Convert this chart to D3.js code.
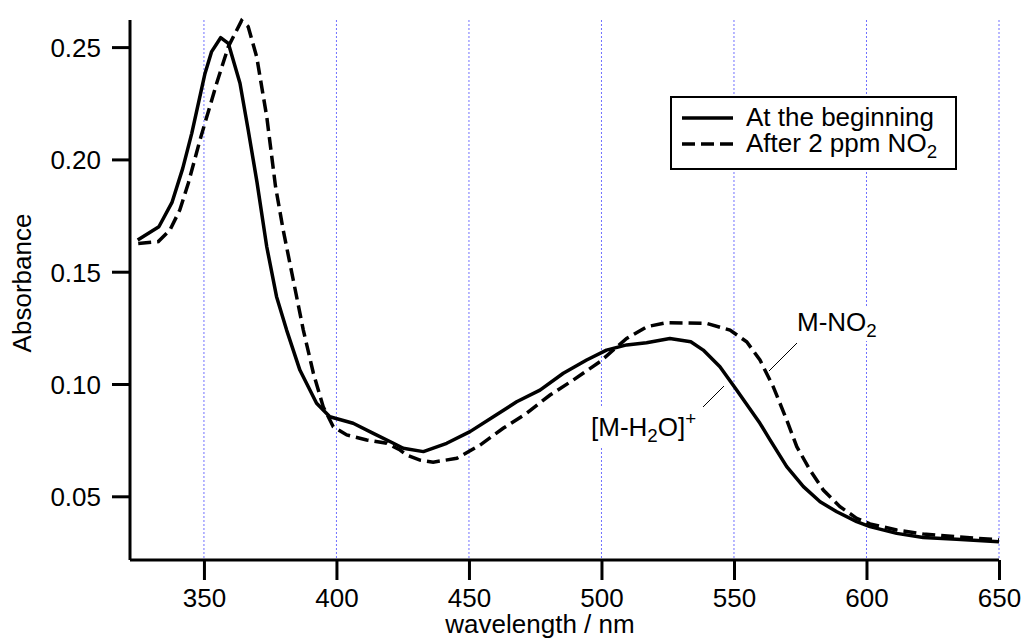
<!DOCTYPE html>
<html>
<head>
<meta charset="utf-8">
<script src="https://cdn.jsdelivr.net/npm/d3@7"></script>
<style>
  html, body { margin: 0; padding: 0; background: #fff; }
  svg { display: block; }
  text { font-family: "Liberation Sans", Arial, Helvetica, sans-serif; fill: #000; }
</style>
</head>
<body>
<svg id="chart" width="1026" height="644"></svg>
<script>
// ---- data ----
const beginWl  = [325, 333, 338, 342, 345.4, 350.4, 352.9, 356.3, 359.2, 363.6, 366.7, 370, 373.7, 377.4, 381.2, 386.2, 392.5, 397.5, 406.3, 413.9, 421.5, 425.2, 432.8, 441.6, 450.4, 459.2, 468, 476.8, 485.6, 494.4, 501.9, 509.5, 517, 525.8, 533.7, 538.4, 544.7, 551, 559.8, 563.6, 569.9, 576.2, 582.5, 588.8, 596.3, 601.3, 611.4, 621.4, 634, 650];
const beginAbs = [0.1641, 0.1700, 0.1810, 0.1960, 0.2116, 0.2383, 0.2480, 0.2542, 0.2517, 0.2339, 0.2131, 0.1900, 0.1611, 0.1389, 0.1240, 0.1062, 0.0914, 0.0854, 0.0825, 0.0780, 0.0736, 0.0714, 0.0699, 0.0736, 0.0788, 0.0854, 0.0921, 0.0973, 0.1048, 0.1107, 0.1151, 0.1174, 0.1184, 0.1203, 0.1188, 0.1151, 0.1077, 0.0973, 0.0825, 0.0751, 0.0632, 0.0543, 0.0476, 0.0431, 0.0387, 0.0365, 0.0335, 0.0317, 0.0309, 0.0298];

const afterWl  = [325.2, 332.8, 337.2, 340.9, 344.1, 348.5, 354.8, 359.2, 364.2, 366.7, 369.9, 373.7, 377, 379.9, 383.7, 387.5, 391.3, 395, 398.8, 403.9, 411.4, 419, 424, 426.5, 431.5, 436.5, 445.4, 454.2, 462.9, 471.8, 480.6, 489.4, 499.4, 509.5, 517.1, 524.6, 539.7, 548.5, 554.8, 559.8, 564.8, 569.9, 573.7, 578.7, 583.7, 590, 596.3, 601.3, 611.4, 621.4, 634, 650];
const afterAbs = [0.1626, 0.1634, 0.1686, 0.1775, 0.1894, 0.2086, 0.2339, 0.2502, 0.2618, 0.2591, 0.2457, 0.2190, 0.1880, 0.1686, 0.1463, 0.1240, 0.1048, 0.0899, 0.0810, 0.0773, 0.0751, 0.0736, 0.0706, 0.0684, 0.0661, 0.0652, 0.0669, 0.0728, 0.0803, 0.0870, 0.0951, 0.1018, 0.1099, 0.1203, 0.1255, 0.1273, 0.1270, 0.1240, 0.1188, 0.1107, 0.0988, 0.0840, 0.0721, 0.0617, 0.0528, 0.0454, 0.0402, 0.0377, 0.0350, 0.0332, 0.0320, 0.0306];

const xTicks = [350, 400, 450, 500, 550, 600, 650];
const yTicks = [0.05, 0.10, 0.15, 0.20, 0.25];
const seriesNames = ["At the beginning", "After 2 ppm NO"];
const xDomain = [322.1, 650];
const yDomain = [0.02164, 0.26207];

// ---- layout ----
const svg = d3.select("#chart");
const plot = { left: 130, right: 999, top: 20, bottom: 560 };
const FS = 26;
const LW = 3.5;

const x = d3.scaleLinear().domain(xDomain).range([plot.left, plot.right]);
const y = d3.scaleLinear().domain(yDomain).range([plot.bottom, plot.top]);

// grid lines (dotted blue)
svg.append("g").selectAll("line").data(xTicks).join("line")
  .attr("x1", d => x(d)).attr("x2", d => x(d))
  .attr("y1", plot.top).attr("y2", plot.bottom)
  .attr("stroke", "#7070ff").attr("stroke-width", 1)
  .attr("stroke-dasharray", "2,2");

// series
const line = d3.line().x(d => x(d[0])).y(d => y(d[1])).curve(d3.curveLinear);
const beginData = beginWl.map((w, i) => [w, beginAbs[i]]);
const afterData = afterWl.map((w, i) => [w, afterAbs[i]]);

svg.append("path").datum(beginData)
  .attr("d", line).attr("fill", "none").attr("stroke", "#000")
  .attr("stroke-width", LW).attr("stroke-linejoin", "round");
svg.append("path").datum(afterData)
  .attr("d", line).attr("fill", "none").attr("stroke", "#000")
  .attr("stroke-width", LW).attr("stroke-dasharray", "13,6");

// axes
const xAxis = d3.axisBottom(x).tickValues(xTicks).tickSize(20).tickPadding(9).tickFormat(d3.format("d"));
const gx = svg.append("g").attr("transform", `translate(0,${plot.bottom})`).call(xAxis);
gx.select(".domain").attr("d", `M${plot.left},0H${plot.right}`).attr("stroke-width", 3);
gx.selectAll(".tick line").attr("stroke-width", 3);
gx.selectAll(".tick text").attr("font-size", FS).attr("font-family", "Liberation Sans, Arial, sans-serif").attr("fill", "#000").attr("dy", "0.71em");

const yAxis = d3.axisLeft(y).tickValues(yTicks).tickSize(18).tickPadding(11).tickFormat(d3.format(".2f"));
const gy = svg.append("g").attr("transform", `translate(${plot.left},0)`).call(yAxis);
gy.select(".domain").attr("d", `M0,${plot.top}V${plot.bottom}`).attr("stroke-width", 3);
gy.selectAll(".tick line").attr("stroke-width", 3);
gy.selectAll(".tick text").attr("font-size", FS).attr("font-family", "Liberation Sans, Arial, sans-serif").attr("fill", "#000").attr("dy", "0.36em");

// axis titles
svg.append("text").attr("x", 540).attr("y", 633).attr("text-anchor", "middle")
  .attr("font-size", FS).text("wavelength / nm");
svg.append("text").attr("transform", "translate(31,283) rotate(-90)").attr("text-anchor", "middle")
  .attr("font-size", FS).text("Absorbance");

// legend
const lg = svg.append("g");
lg.append("rect").attr("x", 671).attr("y", 97).attr("width", 285).attr("height", 72)
  .attr("fill", "#fff").attr("stroke", "#000").attr("stroke-width", 2);
lg.append("line").attr("x1", 682).attr("x2", 733).attr("y1", 118).attr("y2", 118)
  .attr("stroke", "#000").attr("stroke-width", LW);
lg.append("line").attr("x1", 682).attr("x2", 733).attr("y1", 144).attr("y2", 144)
  .attr("stroke", "#000").attr("stroke-width", LW).attr("stroke-dasharray", "13,6");
lg.append("text").attr("x", 746).attr("y", 126).attr("font-size", FS).text(seriesNames[0]);
const t2 = lg.append("text").attr("x", 746).attr("y", 152).attr("font-size", FS);
t2.append("tspan").text(seriesNames[1]);
t2.append("tspan").attr("font-size", FS * 0.72).attr("dy", 6).text("2");

// annotations
function label(parts, xPos, yPos) {
  const g = svg.append("g");
  const t = g.append("text").attr("x", xPos).attr("y", yPos).attr("font-size", FS);
  let base = 0;
  parts.forEach(p => {
    const shift = p.sub ? 6 : p.sup ? -11 : 0;
    t.append("tspan").attr("dy", shift - base)
      .attr("font-size", (p.sub || p.sup) ? FS * 0.72 : FS).text(p.t);
    base = shift;
  });
  const bb = t.node().getBBox();
  g.insert("rect", "text").attr("x", bb.x - 2).attr("y", bb.y).attr("width", bb.width + 4).attr("height", bb.height)
    .attr("fill", "#fff");
  return g;
}
label([{t: "M-NO"}, {t: "2", sub: true}], 797, 331);
label([{t: "[M-H"}, {t: "2", sub: true}, {t: "O]"}, {t: "+", sup: true}], 591, 436);

svg.append("line").attr("x1", 797).attr("y1", 343).attr("x2", 769).attr("y2", 371)
  .attr("stroke", "#000").attr("stroke-width", 1);
svg.append("line").attr("x1", 703).attr("y1", 407).attr("x2", 724).attr("y2", 386)
  .attr("stroke", "#000").attr("stroke-width", 1);
</script>
</body>
</html>
